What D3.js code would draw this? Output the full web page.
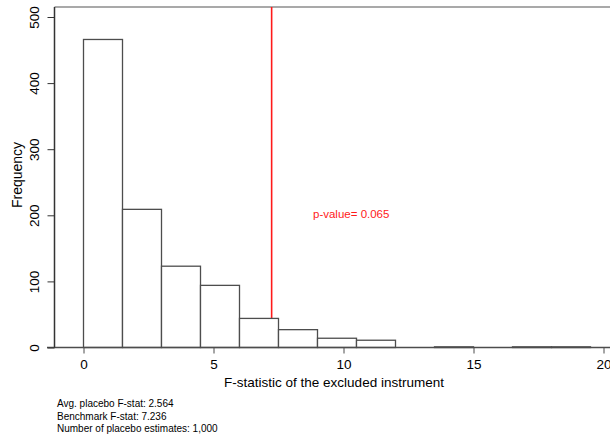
<!DOCTYPE html>
<html>
<head>
<meta charset="utf-8">
<script src="https://cdn.jsdelivr.net/npm/d3@7"></script>
<style>
  body { margin: 0; background: #fff; }
  svg { font-family: "Liberation Sans", Arial, sans-serif; }
</style>
</head>
<body>
<svg id="hist" width="610" height="440"></svg>
<script>
//histogram data: lower edge of each bin (width 1.5) and its count
var binLower = [0, 1.5, 3, 4.5, 6, 7.5, 9, 10.5, 13.5, 16.5, 18];
var counts = [466, 209, 123, 94, 44, 27, 14, 11, 1, 1, 1];
var binWidth = 1.5;

var xTicks = [0, 5, 10, 15, 20];
var yTicks = [0, 100, 200, 300, 400, 500];

var benchmark = 7.236;
var notes = ["Avg. placebo F-stat: 2.564",
             "Benchmark F-stat: 7.236",
             "Number of placebo estimates: 1,000"];

var svg = d3.select("#hist");

var xScale = d3.scaleLinear()
  .domain([0, 20])
  .range([83.5, 603.5]);

var yScale = d3.scaleLinear()
  .domain([0, 500])
  .range([347.5, 17]);

//plot region top border
svg.append("line")
  .attr("x1", 54.5)
  .attr("x2", 612)
  .attr("y1", 7)
  .attr("y2", 7)
  .attr("stroke", "#8c8c8c")
  .attr("stroke-width", 1.6);

//benchmark line goes behind the bars
svg.append("line")
  .attr("x1", xScale(benchmark))
  .attr("x2", xScale(benchmark))
  .attr("y1", 7)
  .attr("y2", yScale(0))
  .attr("stroke", "#ff1a1a")
  .attr("stroke-width", 1.6);

svg.append("g")
  .selectAll("rect")
  .data(binLower)
  .enter().append("rect")
  .attr("x", d => xScale(d))
  .attr("width", d => xScale(d + binWidth) - xScale(d))
  .attr("y", (d, i) => yScale(counts[i]))
  .attr("height", (d, i) => yScale(0) - yScale(counts[i]))
  .attr("fill", "#fff")
  .attr("stroke", "#4d4d4d")
  .attr("stroke-width", 1.3);

//axes
var xAxis = svg.append("g")
  .attr("transform", "translate(0," + yScale(0) + ")")
  .call(d3.axisBottom(xScale).tickValues(xTicks).tickSize(6).tickPadding(6).tickSizeOuter(0));

xAxis.select(".domain").remove();
xAxis.append("line")
  .attr("x1", 47)
  .attr("x2", 612)
  .attr("stroke", "#4d4d4d")
  .attr("stroke-width", 1.3);
xAxis.selectAll(".tick line").attr("stroke", "#4d4d4d");
xAxis.selectAll(".tick text")
  .attr("fill", "#000")
  .style("font-size", "13.5px");

var yAxis = svg.append("g")
  .attr("transform", "translate(54.5,0)")
  .call(d3.axisLeft(yScale).tickValues(yTicks).tickSize(7).tickSizeOuter(0));

yAxis.select(".domain")
  .attr("d", "M0,7V" + yScale(0))
  .attr("stroke", "#333")
  .attr("stroke-width", 1.5);
yAxis.selectAll(".tick line").attr("stroke", "#333");
yAxis.selectAll(".tick text")
  .attr("x", 0)
  .attr("dy", 0)
  .attr("transform", "translate(-16,0) rotate(-90)")
  .attr("text-anchor", "middle")
  .attr("fill", "#000")
  .style("font-size", "13.5px");

//titles
svg.append("text")
  .attr("transform", "translate(22,175) rotate(-90)")
  .attr("text-anchor", "middle")
  .style("font-size", "14px")
  .text("Frequency");

svg.append("text")
  .attr("x", 334)
  .attr("y", 387)
  .attr("text-anchor", "middle")
  .style("font-size", "13.5px")
  .text("F-statistic of the excluded instrument");

svg.append("text")
  .attr("x", 313)
  .attr("y", 218)
  .attr("fill", "#ff1a1a")
  .style("font-size", "11.5px")
  .text("p-value= 0.065");

//notes under the graph
svg.append("g")
  .selectAll("text")
  .data(notes)
  .enter().append("text")
  .attr("x", 57)
  .attr("y", (d, i) => 407 + i * 12.5)
  .style("font-size", "10px")
  .text(d => d);
</script>
</body>
</html>
